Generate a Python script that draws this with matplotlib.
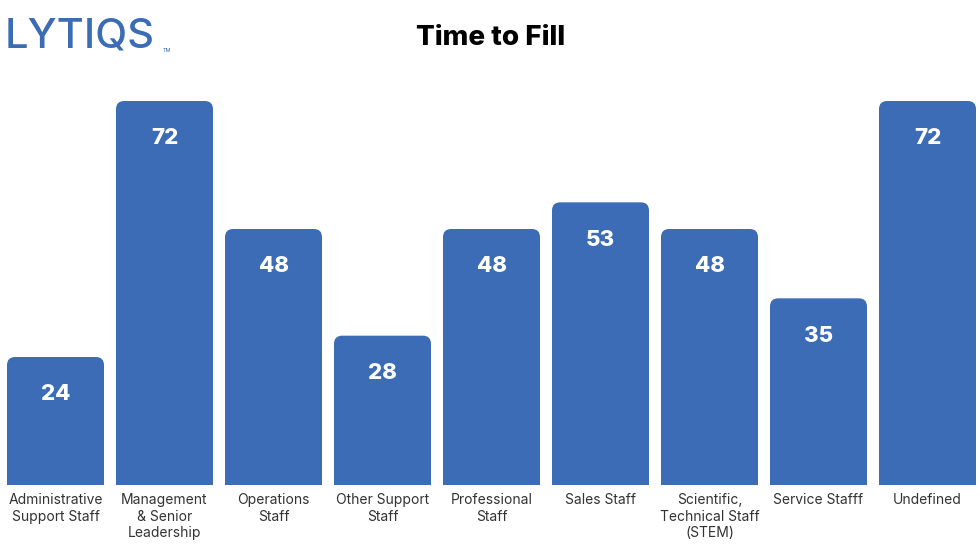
import matplotlib.pyplot as plt
from matplotlib.patches import FancyBboxPatch, Rectangle

categories = ['Administrative\nSupport Staff', 'Management\n& Senior\nLeadership', 'Operations\nStaff',
              'Other Support\nStaff', 'Professional\nStaff', 'Sales Staff',
              'Scientific,\nTechnical Staff\n(STEM)', 'Service Stafff', 'Undefined']
values = [24, 72, 48, 28, 48, 53, 48, 35, 72]

blue = '#3B6CB5'
plt.rcParams['font.family'] = ['Inter', 'DejaVu Sans']

fig = plt.figure(figsize=(9.8, 5.5), dpi=100)
ax = fig.add_axes([0, 65 / 550, 1, 384 / 550])
ax.set_xlim(-55.5 / 109, 8 + 52.5 / 109)
ax.set_ylim(0, 72)
ax.axis('off')

bars = ax.bar(range(len(values)), values, width=0.89, color=blue)
r = 0.075
aspect = 20.5
for b, v in zip(bars, bars.datavalues):
    x, w, h = b.get_x(), b.get_width(), b.get_height()
    b.set_visible(False)
    ax.add_patch(FancyBboxPatch((x, 0), w, h, boxstyle=f'round,pad=0,rounding_size={r}',
                                mutation_aspect=aspect, fc=blue, ec='none'))
    ax.add_patch(Rectangle((x, 0), w, h / 2, fc=blue, ec='none'))
    ax.annotate(f'{v:g}', (x + w / 2, h), xytext=(0, -27), textcoords='offset points',
                ha='center', va='center', color='white', fontsize=16, fontweight='heavy')

for i, c in enumerate(categories):
    ax.annotate(c, (i, 0), xytext=(0, -6), textcoords='offset points', ha='center', va='top',
                fontsize=10, color='#333333', linespacing=1.2)

fig.text(491, 550 - 38, 'Time to Fill', transform=None, ha='center', va='center',
         fontsize=20, fontweight='heavy', color='black')
fig.text(5, 550 - 37, 'LYTIQS', transform=None, ha='left', va='center',
         fontsize=30, color=blue, fontweight='medium')
fig.text(163, 550 - 51, 'TM', transform=None, ha='left', va='center', fontsize=4, color=blue)

fig.savefig('out.png', dpi=100)
